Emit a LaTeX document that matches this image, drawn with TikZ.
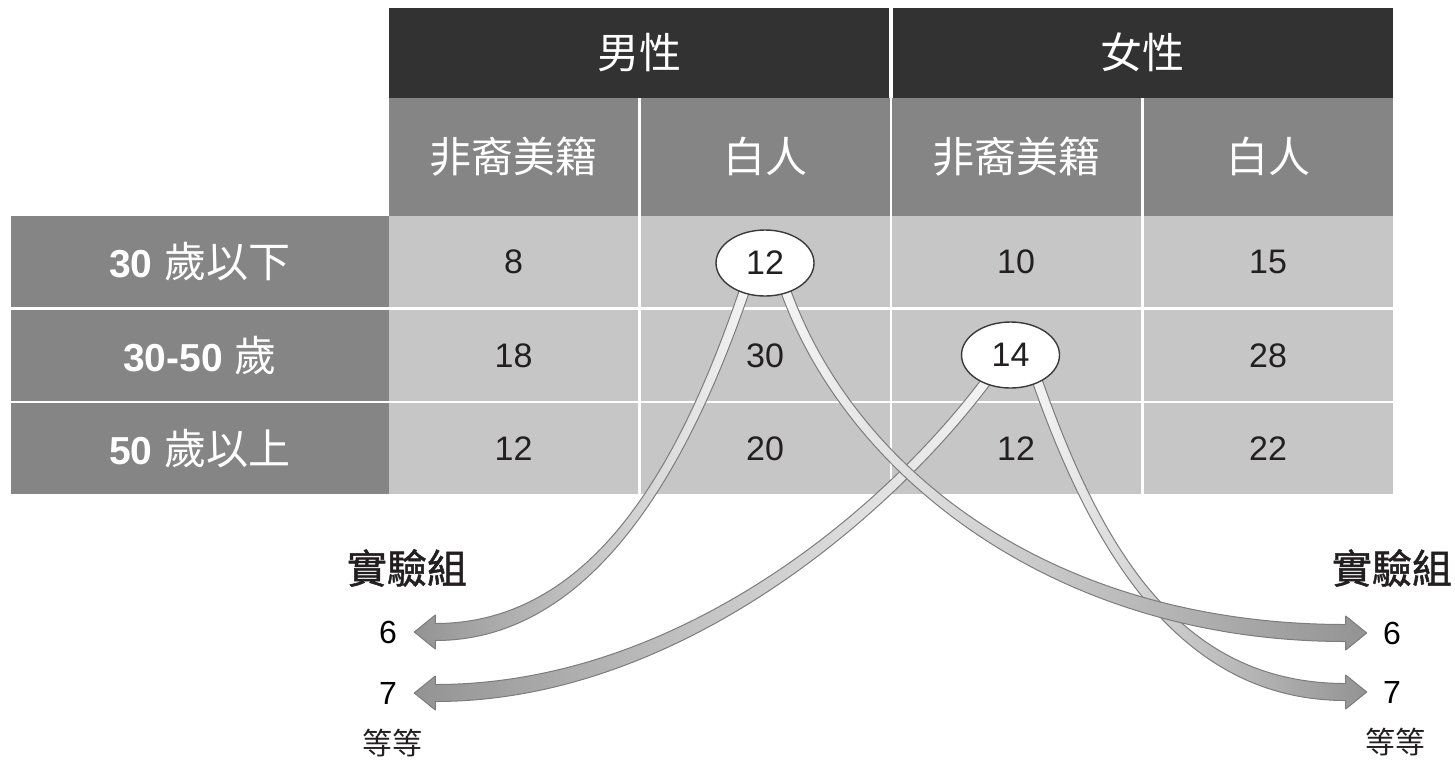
\documentclass[tikz,border=0pt]{standalone}
\usepackage{fontspec}
\setmainfont{Liberation Sans}
\newfontfamily\cjk{Noto Sans CJK TC}
\newfontfamily\cjkm[FakeBold=1.2]{Noto Sans CJK TC}
\usetikzlibrary{calc,shapes.geometric}

\definecolor{hdrdark}{HTML}{323232}
\definecolor{midgray}{HTML}{858585}
\definecolor{cellgray}{HTML}{C6C6C6}
\definecolor{inkdark}{HTML}{231F20}
\definecolor{ovalline}{HTML}{3A3A3A}
\definecolor{bandgray}{HTML}{939393}
\definecolor{bandwhite}{HTML}{F4F4F4}
\definecolor{bandline}{HTML}{7C7C7C}

\pgfdeclarelayer{back}
\pgfdeclarelayer{mid}
\pgfsetlayers{back,mid,main}

% tapered band: start, control 1, control 2, shaft end, shading
\newcommand{\bandarrow}[5]{%
  \path[band,#5] ($#1!2.5pt!90:#2$) .. controls ($#2!2.5pt!-90:#1$) and ($#3!4.25pt!90:#4$) .. ($#4!4.25pt!-90:#3$)
    -- ($#4!8.5pt!-90:#3$) -- ($#4!-10.5pt!#3$) -- ($#4!8.5pt!90:#3$)
    -- ($#4!4.25pt!90:#3$) .. controls ($#3!4.25pt!-90:#4$) and ($#2!2.5pt!90:#1$) .. ($#1!2.5pt!-90:#2$) -- cycle;}

\begin{document}
\begin{tikzpicture}[x=0.5pt,y=-0.5pt,
  hdr/.style={fill=hdrdark,text=white,inner sep=0,minimum width=250pt,minimum height=45pt,font=\cjk\fontsize{21}{25}\selectfont},
  sub/.style={fill=midgray,text=white,inner sep=0,minimum width=124.5pt,minimum height=59.25pt,font=\cjk\fontsize{21}{25}\selectfont},
  rowlab/.style={fill=midgray,text=white,inner sep=0,minimum width=188.75pt,minimum height=45.5pt,font=\fontsize{21}{25}\selectfont},
  cell/.style={fill=cellgray,text=inkdark,inner sep=0,minimum width=124.5pt,minimum height=45.5pt,font=\fontsize{17}{20}\selectfont},
  oval/.style={ellipse,draw=ovalline,line width=0.7pt,fill=white,text=inkdark,inner sep=0,minimum width=49pt,minimum height=33pt,font=\fontsize{17}{20}\selectfont},
  grp/.style={inner sep=0,text=inkdark,font=\cjkm\fontsize{20}{24}\selectfont},
  num/.style={inner sep=0,text=black,font=\fontsize{16}{19}\selectfont},
  etc/.style={inner sep=0,text=inkdark,font=\cjk\fontsize{15}{18}\selectfont},
  band/.style={draw=bandline,line width=0.5pt,line join=round}]
\useasboundingbox (0,0) rectangle (1455,762);

\begin{pgfonlayer}{back}
  \node[hdr] (men) at (639,52.5) {男性};
  \node[hdr] (women) at (1142.5,52.5) {女性};
  \node[sub] (s1a) at (513.5,156.75) {非裔美籍};
  \node[sub] (s1b) at (765,156.75) {白人};
  \node[sub] (s2a) at (1016,156.75) {非裔美籍};
  \node[sub] (s2b) at (1268,156.75) {白人};
  \node[rowlab] (age1) at (199.75,261.5) {{\bfseries\fontsize{19.5}{23}\selectfont 30} {\cjk 歲以下}};
  \node[rowlab] (age2) at (199.75,355.5) {{\bfseries\fontsize{19.5}{23}\selectfont 30-50} {\cjk 歲}};
  \node[rowlab] (age3) at (199.75,448.5) {{\bfseries\fontsize{19.5}{23}\selectfont 50} {\cjk 歲以上}};
  \foreach \x/\y/\v/\n in {513.5/261.5/8/a1, 765/261.5//b1, 1016/261.5/10/c1, 1268/261.5/15/d1,
      513.5/355.5/18/a2, 765/355.5/30/b2, 1016/355.5//c2, 1268/355.5/28/d2,
      513.5/448.5/12/a3, 765/448.5/20/b3, 1016/448.5/12/c3, 1268/448.5/22/d3}
    \node[cell] (\n) at (\x,\y) {\v};
\end{pgfonlayer}

\node[oval] (m12) at (765,263) {12};
\node[oval] (m14) at (1010.5,355) {14};

\node[grp] (lgrp) at (407,568) {實驗組};
\node[num] (l6) at (388,632) {6};
\node[num] (l7) at (388,693) {7};
\node[etc] (letc) at (392,743) {等等};
\node[grp] (rgrp) at (1392,568) {實驗組};
\node[num] (r6) at (1392,633) {6};
\node[num] (r7) at (1392,692) {7};
\node[etc] (retc) at (1395,742) {等等};

\coordinate (st1) at ($(m12.center)!0.9!(m12.-127)$);
\coordinate (st2) at ($(m12.center)!0.9!(m12.-53)$);
\coordinate (st3) at ($(m14.center)!0.9!(m14.-133)$);
\coordinate (st4) at ($(m14.center)!0.9!(m14.-43)$);
\coordinate (en1) at ($(l6.east)+(38,0)$);
\coordinate (en2) at ($(r6.west)+(-37,0)$);
\coordinate (en3) at ($(l7.east)+(38,0)$);
\coordinate (en4) at ($(r7.west)+(-37,0)$);

\begin{pgfonlayer}{mid}
  \bandarrow{(st1)}{(690,450)}{(600,632)}{(en1)}{left color=bandgray,right color=bandwhite}
  \bandarrow{(st3)}{(890,510)}{(680,693)}{(en3)}{left color=bandgray,right color=bandwhite}
  \bandarrow{(st4)}{(1100,560)}{(1185,692)}{(en4)}{left color=bandwhite,right color=bandgray}
  \bandarrow{(st2)}{(850,470)}{(1050,633)}{(en2)}{left color=bandwhite,right color=bandgray}
\end{pgfonlayer}
\end{tikzpicture}
\end{document}
